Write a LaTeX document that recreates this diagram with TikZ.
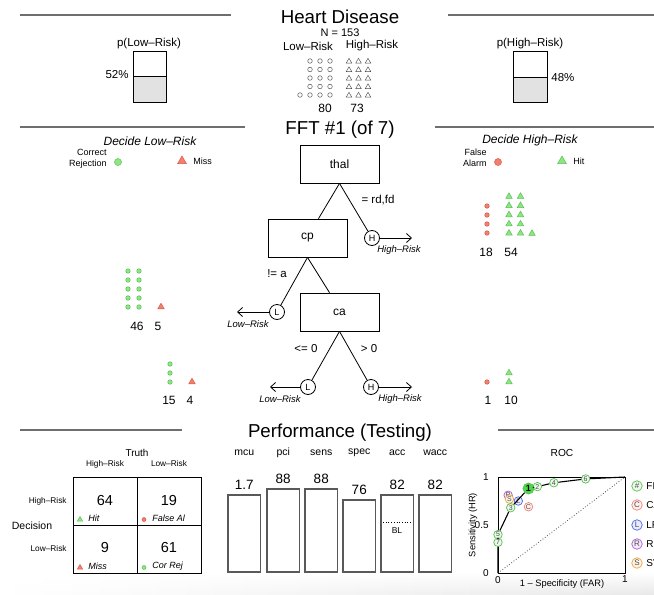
\documentclass[tikz,border=0pt]{standalone}
\usepackage{fontspec}
\setmainfont{Liberation Sans}
\usetikzlibrary{arrows.meta, positioning, shapes.geometric, calc, fadings}
\definecolor{cgreen}{HTML}{90E486}
\definecolor{cgreendk}{HTML}{55C24F}
\definecolor{cgreenhi}{HTML}{4CD64C}
\definecolor{cred}{HTML}{F2806F}
\definecolor{creddk}{HTML}{DA5544}
\definecolor{cblue}{HTML}{4A64E6}
\definecolor{cpurple}{HTML}{A85AD8}
\definecolor{corange}{HTML}{F2A23C}
\definecolor{cgrey}{HTML}{6E6E6E}
\definecolor{cfill}{HTML}{E2E2E2}
\newcommand{\fsz}[1]{\fontsize{#1}{#1}\selectfont}
\tikzset{
  every picture/.style={line width=0.8pt},
  secline/.style={draw=cgrey, line width=1.3pt},
  title/.style={font=\fsz{18.7}, inner sep=0pt, anchor=base},
  lbl/.style={font=\fsz{#1}, inner sep=0pt},
  lbl/.default=11.5,
  note/.style={font=\fsz{#1}\itshape, inner sep=0pt},
  note/.default=9.5,
  cue/.style={draw, minimum width=79pt, minimum height=38pt, font=\fsz{12}},
  exitc/.style={draw, circle, minimum size=15pt, inner sep=0pt, font=\fsz{9}},
  exitarrow/.style={-{Straight Barb[length=5pt, width=9pt]}},
  gdot/.style={circle, fill=cgreen, draw=cgreendk, line width=0.5pt, inner sep=0pt, minimum size=#1},
  gdot/.default=4.5pt,
  rdot/.style={circle, fill=cred, draw=creddk, line width=0.5pt, inner sep=0pt, minimum size=#1},
  rdot/.default=4.5pt,
  gtri/.style={regular polygon, regular polygon sides=3, fill=cgreen, draw=cgreendk, line width=0.5pt, inner sep=0pt, minimum size=#1},
  gtri/.default=7.5pt,
  rtri/.style={regular polygon, regular polygon sides=3, fill=cred, draw=creddk, line width=0.5pt, inner sep=0pt, minimum size=#1},
  rtri/.default=7.5pt,
  ocirc/.style={circle, draw=black!70, line width=0.45pt, inner sep=0pt, minimum size=4.6pt},
  otri/.style={regular polygon, regular polygon sides=3, draw=black!70, line width=0.45pt, inner sep=0pt, minimum size=6.4pt},
  bar/.style={draw=black!65, line width=1.1pt},
  rocpt/.style={circle, draw=#1, fill=#1!12, line width=0.7pt, inner sep=0pt, minimum size=8.5pt, font=\fsz{7}, text=black!70},
}

\begin{document}
\begin{tikzpicture}[x=1pt, y=-1pt]
  \useasboundingbox (0,0) rectangle (654,595);
  \clip (0,0) rectangle (654,595);
  \shade[left color=white, right color=black!9, path fading=north] (0,572) rectangle (654,595);
  % ---- data ----
  \draw[secline] (20,15) -- (231,15);
  \draw[secline] (448,15) -- (654,15);
  \node[title] (ttlData) at (340,23) {Heart Disease};
  \node[lbl=11] (nobs) at (340,33) {N = 153};
  \node[lbl] (hdLow) at (308,46) {Low--Risk};
  \node[lbl] (hdHigh) at (372,46) {High--Risk};
  \foreach \r in {0,...,4}{
    \foreach \c in {0,1,2}{
      \node[ocirc] (oc\r\c) at ({310+10*\c},{61+8.5*\r}) {};
      \node[otri] (ot\r\c) at ({349+9.5*\c},{61.5+8.5*\r}) {};
    }
  }
  \node[ocirc] (oc4x) at (300,95) {};
  \node[lbl=12] (nLow) at (325,108) {80};
  \node[lbl=12] (nHigh) at (357,108) {73};
  % p boxes
  \node[lbl] (pLow) at (149,44) {p(Low--Risk)};
  \fill[cfill] (133,76) rectangle (166,102);
  \draw (133,51) rectangle (166,102);
  \draw (133,76) -- (166,76);
  \node[lbl, anchor=east] (pLowVal) at (129,75) {52\%};
  \node[lbl] (pHigh) at (530,44) {p(High--Risk)};
  \fill[cfill] (513,77) rectangle (547,102);
  \draw (513,51) rectangle (547,102);
  \draw (513,77) -- (547,77);
  \node[lbl, anchor=west] (pHighVal) at (551,78) {48\%};

  % ---- tree ----
  \draw[secline] (20,127) -- (245,127);
  \draw[secline] (435,127) -- (654,127);
  \node[title] (ttlTree) at (340,134) {FFT \#1 (of 7)};
  \node[note=12] (decLow) at (150,141) {Decide Low--Risk};
  \node[note=12] (decHigh) at (530,140) {Decide High--Risk};
  \node[font=\fontsize{9}{10.5}\selectfont, inner sep=0pt, align=right, anchor=east] (lgCR) at (107,159) {Correct\\Rejection};
  \node[gdot=7pt] (lgCRi) at (118,162) {};
  \node[rtri=10pt] (lgMi) at (182,161) {};
  \node[lbl=9, anchor=west] (lgMiss) at (193,161) {Miss};
  \node[font=\fontsize{9}{10.5}\selectfont, inner sep=0pt, align=right, anchor=east] (lgFA) at (487,158) {False\\Alarm};
  \node[rdot=7pt] (lgFAi) at (498,162) {};
  \node[gtri=10pt] (lgHi) at (562,161) {};
  \node[lbl=9, anchor=west] (lgHit) at (573,161) {Hit};

  \node[cue] (thal) at (339.5,164) {thal};
  \node[cue] (cp) at (307.5,238) {cp};
  \node[cue] (ca) at (339.5,312) {ca};
  \node[exitc] (exH1) at (372,238) {H};
  \node[exitc] (exL2) at (277,312) {L};
  \node[exitc] (exL3) at (308,387) {L};
  \node[exitc] (exH3) at (371,387) {H};
  \draw (thal.south) -- ([xshift=11pt]cp.north);
  \draw (thal.south) -- (exH1);
  \draw (cp.south) -- (exL2);
  \draw (cp.south) -- ([xshift=-10pt]ca.north);
  \draw (ca.south) -- (exL3);
  \draw (ca.south) -- (exH3);
  \coordinate (endH1) at (412,238);
  \coordinate (endL2) at (237,312);
  \coordinate (endL3) at (270,387);
  \coordinate (endH3) at (412,387);
  \draw[exitarrow] (exH1) -- (endH1);
  \draw[exitarrow] (exL2) -- (endL2);
  \draw[exitarrow] (exL3) -- (endL3);
  \draw[exitarrow] (exH3) -- (endH3);
  \node[note] (xH1) at (399,250) {High--Risk};
  \node[note] (xL2) at (248,324) {Low--Risk};
  \node[note] (xL3) at (280,399) {Low--Risk};
  \node[note] (xH3) at (400,399) {High--Risk};
  \node[lbl] (cThal) at (378,200) {= rd,fd};
  \node[lbl] (cCp) at (277,274) {!= a};
  \node[lbl] (cCaL) at (306,349) {<= 0};
  \node[lbl] (cCaH) at (369,349) {> 0};

  % cases at each exit
  \foreach \r in {0,...,3} \node[rdot] (fa1\r) at (487,{206+9*\r}) {};
  \foreach \r in {0,...,4}{
    \node[gtri] (hA\r) at (509,{196.5+9.2*\r}) {};
    \node[gtri] (hB\r) at (520.5,{196.5+9.2*\r}) {};
  }
  \node[gtri] (hC4) at (532,233.5) {};
  \node[lbl=12] (n18) at (486,252) {18};
  \node[lbl=12] (n54) at (511,252) {54};

  \foreach \r in {0,...,4}{
    \node[gdot] (crA\r) at (128,{271+9*\r}) {};
    \node[gdot] (crB\r) at (139,{271+9*\r}) {};
  }
  \node[rtri] (mi2) at (161,307) {};
  \node[lbl=12] (n46) at (137,326) {46};
  \node[lbl=12] (n5) at (158,326) {5};

  \foreach \r in {0,...,2} \node[gdot] (crC\r) at (170,{364+9*\r}) {};
  \node[rtri] (mi3) at (192,382) {};
  \node[lbl=12] (n15) at (169,400) {15};
  \node[lbl=12] (n4) at (190,400) {4};

  \node[rdot] (fa3) at (487,382) {};
  \node[gtri] (hD0) at (509,373) {};
  \node[gtri] (hD1) at (509,382) {};
  \node[lbl=12] (n1) at (488,400) {1};
  \node[lbl=12] (n10) at (511,400) {10};

  % ---- performance ----
  \draw[secline] (20,430) -- (182,430);
  \draw[secline] (498,430) -- (654,430);
  \node[title] (ttlPerf) at (340,437) {Performance (Testing)};

  % confusion table
  \node[lbl=10] (truth) at (137,453) {Truth};
  \node[lbl=8.3] (tHigh) at (105,464) {High--Risk};
  \node[lbl=8.3] (tLow) at (169,464) {Low--Risk};
  \node[lbl=8.3, anchor=east] (dHigh) at (67,501) {High--Risk};
  \node[lbl=8.3, anchor=east] (dLow) at (67,549) {Low--Risk};
  \node[lbl=10.5] (decision) at (32,526) {Decision};
  \draw (73,477) rectangle (201,573);
  \draw (137,477) -- (137,573);
  \draw (73,525) -- (201,525);
  \node[lbl=14.5] (vHit) at (105,501) {64};
  \node[lbl=14.5] (vFA) at (169,501) {19};
  \node[lbl=14.5] (vMiss) at (105,548) {9};
  \node[lbl=14.5] (vCR) at (169,548) {61};
  \node[gtri=6pt] (iHit) at (80,519.5) {};
  \node[note=9, anchor=west] (tHit) at (88,518.5) {Hit};
  \node[rdot=4pt] (iFA) at (144,519.5) {};
  \node[note=9, anchor=west] (tFA) at (152,518.5) {False Al};
  \node[rtri=6pt] (iMiss) at (80,567.5) {};
  \node[note=9, anchor=west] (tMiss) at (88,566.5) {Miss};
  \node[gdot=4pt] (iCR) at (144,567.5) {};
  \node[note=9, anchor=west] (tCR) at (152,566.5) {Cor Rej};

  % measures
  \foreach \nm/\xl/\tp/\val in {mcu/228/495/1.7, pci/267/489/88, sens/305/489/88, spec/343/500/76, acc/381/495/82, wacc/419/495/82}{
    \draw[bar] (\xl,\tp) rectangle ({\xl+32.5},572);
    \node[lbl=10.5] (m\nm) at ({\xl+16.25},453) {\nm};
    \node[lbl=13.5] (v\nm) at ({\xl+16.25},{\tp-10}) {\val};
  }
  \draw[dotted, line width=0.7pt] (383,522) -- (411,522);
  \node[lbl=8.5] (bl) at (397,531) {BL};

  % ROC
  \node[lbl=10.2] (roc) at (562,453) {ROC};
  \node[lbl=9.3, rotate=90] (yax) at (473,525) {Sensitivity (HR)};
  \node[lbl=9.3] (xax) at (562,584) {1 -- Specificity (FAR)};
  \node[lbl=10, anchor=east] (ty1) at (489,477) {1};
  \node[lbl=10, anchor=east] (ty5) at (489,525) {0.5};
  \node[lbl=10, anchor=east] (ty0) at (489,573) {0};
  \node[lbl=10] (tx0) at (498,580) {0};
  \node[lbl=10] (tx1) at (625,579) {1};
  \begin{scope}[shift={(498,573)}, x=127pt, y=96pt]
    \draw (0,0) rectangle (1,1);
    \draw[dotted, black!70] (0,0) -- (1,1);
    \coordinate (r00) at (0,0);
    \coordinate (r11) at (1,1);
    \node[rocpt=cred] (ptC) at (0.24,0.69) {C};
    \node[rocpt=cblue] (ptL) at (0.16,0.75) {L};
    \node[rocpt=cpurple] (ptR) at (0.08,0.81) {R};
    \node[rocpt=corange] (ptS) at (0.09,0.77) {S};
    \foreach \nm/\fa/\hr in {7/0/0.32, 5/0/0.40, 3/0.10/0.68, 2/0.31/0.90, 4/0.44/0.94, 6/0.69/0.98}
      \node[rocpt=cgreendk] (pt\nm) at (\fa,\hr) {\nm};
    \node[rocpt=cgreendk, fill=cgreenhi, minimum size=11pt, font=\fsz{9}\bfseries, text=black] (pt1) at (0.24,0.88) {1};
    \draw[line width=1.1pt] (r00) -- (pt7) -- (pt5) -- (pt3) -- (pt1) -- (pt2) -- (pt4) -- (pt6) -- (r11);
  \end{scope}
  % legend
  \foreach \y/\col/\ch/\txt in {486/cgreendk/\#/FFT, 505/cred/C/CART, 525/cblue/L/LR, 544/cpurple/R/RF, 563/corange/S/SVM}{
    \node[rocpt=\col, minimum size=10.5pt, font=\fsz{8}] (lg\txt) at (637,\y) {\ch};
    \node[lbl=10, anchor=west] (lgt\txt) at (646,\y) {\txt};
  }
\end{tikzpicture}
\end{document}
